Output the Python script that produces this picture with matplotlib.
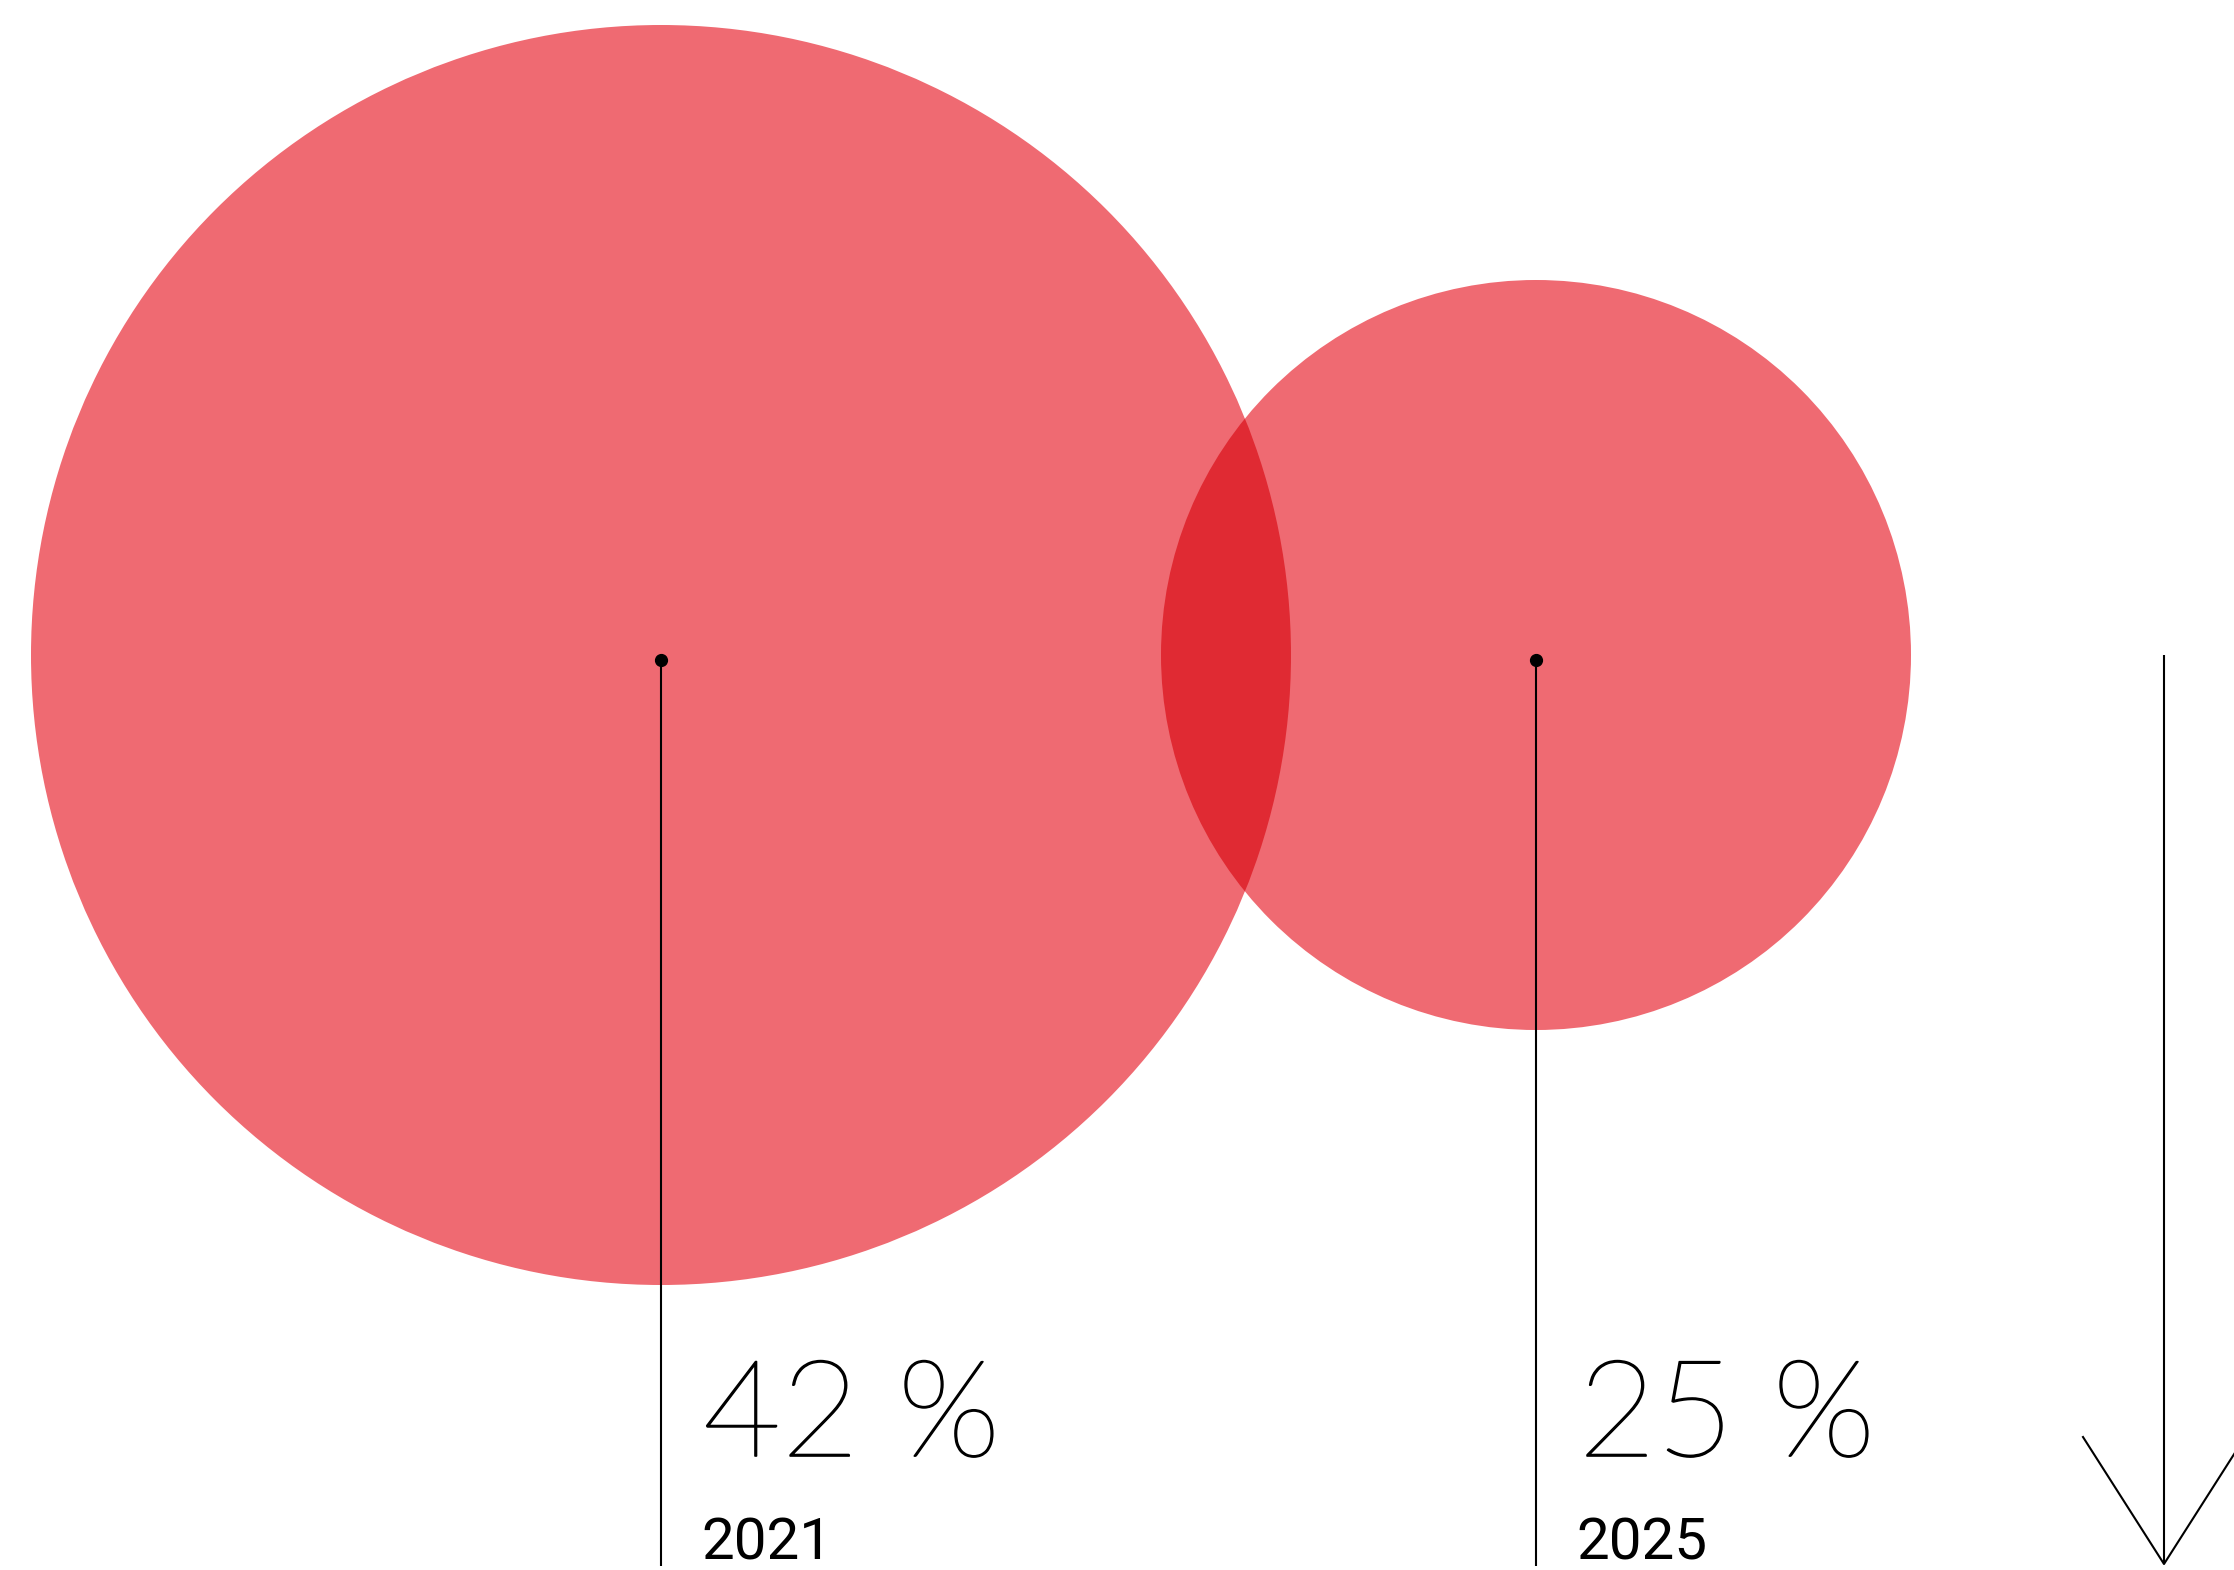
import numpy as np
import matplotlib.pyplot as plt
import matplotlib.patheffects as pe
from matplotlib.patches import Circle

# data
values = [42, 25]
years = ['2021', '2025']
labels = ['42 %', '25 %']

circle_col = '#EF6A72'
overlap_col = '#E02A33'

W, H = 2234, 1570
fig = plt.figure(figsize=[W/100, H/100], dpi=100)
ax = fig.add_axes([0, 0, 1, 1])
ax.set_xlim(0, W)
ax.set_ylim(H, 0)
ax.axis('off')

scale = 15.0          # px of radius per percent
cy = 655
cxs = [31 + values[0]*scale, 1536]
radii = [v*scale for v in values]

c1 = Circle((cxs[0], cy), radii[0], color=circle_col, lw=0, zorder=1)
c2 = Circle((cxs[1], cy), radii[1], color=circle_col, lw=0, zorder=1)
ax.add_patch(c1)
ax.add_patch(c2)
# overlap region (multiply look)
lens = Circle((cxs[1], cy), radii[1], color=overlap_col, lw=0, zorder=2)
ax.add_patch(lens)
lens.set_clip_path(c1)

thick = [pe.Stroke(linewidth=1.2, foreground='black'), pe.Normal()]
for cx, lab, yr in zip(cxs, labels, years):
    ax.plot([cx, cx], [660, 1566], color='black', lw=1.5, zorder=3, solid_capstyle='butt')
    ax.plot(cx, 660, 'o', color='black', ms=8.5, zorder=4)
    ax.text(cx + 42, 1456, lab, fontsize=97, family=['Lato', 'DejaVu Sans'], fontweight='light',
            ha='left', va='baseline', path_effects=thick)
    ax.text(cx + 40, 1559, yr, fontsize=42, family=['Roboto', 'DejaVu Sans'], fontweight='normal',
            ha='left', va='baseline')

# arrow on the right
ax.plot([2164, 2164], [655, 1564], color='black', lw=1.5, solid_capstyle='butt')
ax.plot([2083, 2164, 2245], [1437, 1564, 1437], color='black', lw=1.5)

plt.savefig('out.png', dpi=100)
